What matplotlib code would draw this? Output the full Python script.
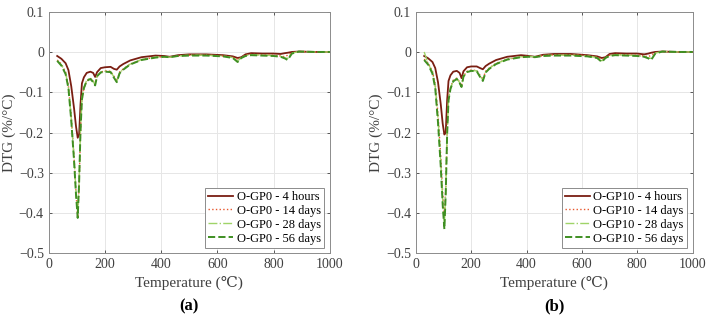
import matplotlib
matplotlib.use('Agg')
import matplotlib.pyplot as plt

# temperature grid (C)
temp = [30, 45, 60, 70, 80, 90, 97, 103, 108, 113, 118, 125, 135, 148, 158, 165,
        172, 185, 200, 220, 232, 242, 252, 265, 290, 330, 380, 410, 430, 460, 500,
        560, 620, 655, 672, 685, 700, 720, 760, 800, 825, 840, 850, 865, 890, 950, 1000]

# panel (a) O-GP0
a_4h = [-0.010, -0.017, -0.028, -0.045, -0.085, -0.140, -0.185, -0.213, -0.205, -0.130,
        -0.078, -0.063, -0.052, -0.049, -0.052, -0.062, -0.050, -0.040, -0.038, -0.037,
        -0.042, -0.044, -0.036, -0.030, -0.021, -0.013, -0.009, -0.010, -0.012, -0.008,
        -0.006, -0.006, -0.008, -0.011, -0.015, -0.013, -0.006, -0.003, -0.004, -0.004,
        -0.005, -0.003, -0.002, 0.000, 0.001, 0.000, 0.000]
a_14d = [-0.020, -0.030, -0.050, -0.085, -0.160, -0.260, -0.350, -0.410, -0.330, -0.200,
         -0.120, -0.090, -0.072, -0.066, -0.072, -0.080, -0.062, -0.050, -0.047, -0.048,
         -0.060, -0.072, -0.050, -0.042, -0.030, -0.019, -0.013, -0.012, -0.013, -0.010,
         -0.008, -0.008, -0.010, -0.013, -0.018, -0.014, -0.008, -0.006, -0.007, -0.008,
         -0.010, -0.012, -0.008, -0.002, 0.001, 0.000, 0.000]
a_28d = [-0.022, -0.032, -0.052, -0.088, -0.165, -0.265, -0.345, -0.400, -0.320, -0.190,
         -0.115, -0.088, -0.070, -0.065, -0.073, -0.082, -0.060, -0.050, -0.048, -0.049,
         -0.062, -0.074, -0.052, -0.043, -0.030, -0.019, -0.013, -0.012, -0.013, -0.010,
         -0.008, -0.008, -0.010, -0.014, -0.022, -0.015, -0.009, -0.007, -0.008, -0.009,
         -0.011, -0.015, -0.016, -0.003, 0.001, 0.000, 0.000]
a_56d = [-0.022, -0.034, -0.055, -0.090, -0.170, -0.270, -0.355, -0.412, -0.325, -0.195,
         -0.118, -0.090, -0.072, -0.067, -0.075, -0.083, -0.060, -0.051, -0.049, -0.050,
         -0.064, -0.075, -0.053, -0.044, -0.031, -0.020, -0.014, -0.012, -0.013, -0.010,
         -0.009, -0.009, -0.011, -0.015, -0.025, -0.015, -0.010, -0.008, -0.009, -0.010,
         -0.012, -0.016, -0.020, -0.004, 0.001, 0.000, 0.000]

# panel (b) O-GP10
b_4h = [-0.010, -0.016, -0.025, -0.040, -0.075, -0.130, -0.178, -0.205, -0.200, -0.120,
        -0.072, -0.058, -0.049, -0.047, -0.052, -0.065, -0.048, -0.038, -0.036, -0.036,
        -0.040, -0.043, -0.035, -0.029, -0.020, -0.012, -0.008, -0.010, -0.012, -0.007,
        -0.005, -0.005, -0.008, -0.011, -0.015, -0.013, -0.005, -0.003, -0.004, -0.004,
        -0.006, -0.004, -0.002, 0.000, 0.001, 0.000, 0.000]
b_14d = [-0.018, -0.028, -0.048, -0.080, -0.155, -0.260, -0.350, -0.410, -0.340, -0.200,
         -0.115, -0.088, -0.070, -0.065, -0.074, -0.084, -0.060, -0.048, -0.045, -0.046,
         -0.058, -0.068, -0.048, -0.040, -0.028, -0.018, -0.012, -0.011, -0.012, -0.009,
         -0.007, -0.007, -0.009, -0.013, -0.018, -0.014, -0.008, -0.006, -0.007, -0.008,
         -0.010, -0.012, -0.008, -0.002, 0.001, 0.000, 0.000]
b_28d = [0.000, -0.030, -0.050, -0.085, -0.165, -0.275, -0.370, -0.430, -0.345, -0.200,
         -0.118, -0.090, -0.072, -0.066, -0.076, -0.086, -0.060, -0.049, -0.046, -0.047,
         -0.060, -0.070, -0.050, -0.041, -0.029, -0.018, -0.012, -0.011, -0.012, -0.009,
         -0.008, -0.008, -0.010, -0.014, -0.022, -0.015, -0.009, -0.007, -0.008, -0.009,
         -0.011, -0.015, -0.016, -0.003, 0.001, 0.000, 0.000]
b_56d = [-0.020, -0.032, -0.054, -0.090, -0.175, -0.285, -0.380, -0.440, -0.350, -0.205,
         -0.120, -0.092, -0.073, -0.067, -0.077, -0.087, -0.061, -0.050, -0.047, -0.048,
         -0.062, -0.072, -0.051, -0.042, -0.030, -0.019, -0.013, -0.012, -0.013, -0.010,
         -0.009, -0.009, -0.011, -0.015, -0.025, -0.015, -0.010, -0.008, -0.009, -0.010,
         -0.012, -0.016, -0.020, -0.004, 0.001, 0.000, 0.000]

ages = ['4 hours', '14 days', '28 days', '56 days']
colors = ['#7a1e12', '#e8572e', '#9fd468', '#3f8f22']
styles = ['-', ':', '-.', '--']
widths = [1.3, 1.0, 1.0, 1.4]

plt.rcParams['font.family'] = ['Liberation Serif', 'DejaVu Serif']

fig = plt.figure(figsize=(7.17, 3.24), dpi=100)
panels = [
    ('O-GP0', [a_4h, a_14d, a_28d, a_56d], [0.068, 0.218, 0.392, 0.746], '(a)'),
    ('O-GP10', [b_4h, b_14d, b_28d, b_56d], [0.580, 0.218, 0.386, 0.746], '(b)'),
]

for name, series, rect, tag in panels:
    ax = fig.add_axes(rect)
    for vals, age, c, ls, lw in zip(series, ages, colors, styles, widths):
        ax.plot(temp, vals, color=c, linestyle=ls, linewidth=lw, label=name + ' - ' + age)
    ax.set_xlim(0, 1000)
    ax.set_ylim(-0.5, 0.1)
    ax.set_xticks([0, 200, 400, 600, 800, 1000])
    ax.set_yticks([-0.5, -0.4, -0.3, -0.2, -0.1, 0, 0.1])
    ax.set_yticklabels(['\u22120.5', '\u22120.4', '\u22120.3', '\u22120.2', '\u22120.1', '0', '0.1'])
    ax.grid(True, color='#e6e6e6', linewidth=0.7)
    ax.set_axisbelow(True)
    for s in ax.spines.values():
        s.set_color('#8c8c8c')
        s.set_linewidth(0.7)
    ax.tick_params(labelsize=10, colors='#404040', length=2, width=0.6, direction='in',
                   top=True, right=True)
    ax.set_xlabel('Temperature (\u2103)', fontsize=11, color='#404040', labelpad=3)
    ax.set_ylabel('DTG (%/\u00b0C)', fontsize=11, color='#404040', labelpad=2)
    leg = ax.legend(loc='lower right', fontsize=9, handlelength=2.0, handletextpad=0.3,
                    borderpad=0.25, labelspacing=0.15, fancybox=False, framealpha=1,
                    borderaxespad=0.45)
    leg.get_frame().set_edgecolor('#8c8c8c')
    leg.get_frame().set_linewidth(0.7)
    fig.text(rect[0] + rect[2] / 2, 0.03, tag, ha='center', va='bottom', fontsize=12,
             fontweight='bold')

fig.savefig('out.png', dpi=100)
